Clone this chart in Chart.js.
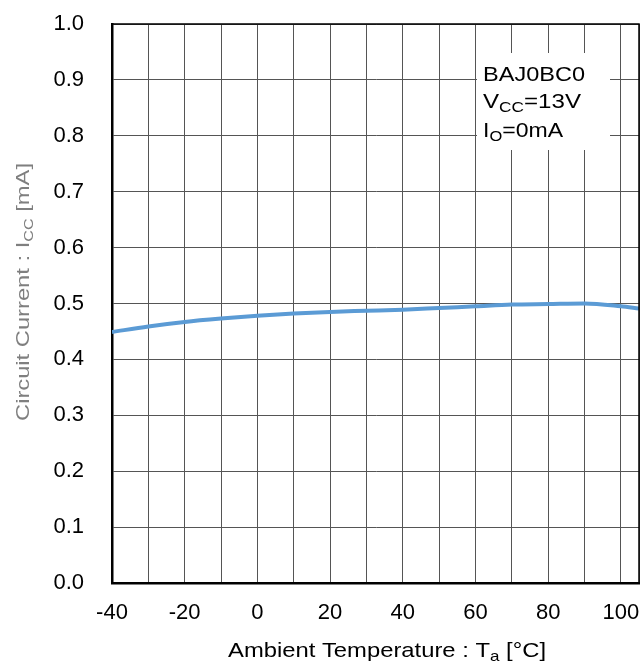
<!DOCTYPE html>
<html>
<head>
<meta charset="utf-8">
<script src="https://cdn.jsdelivr.net/npm/chart.js@4"></script>
<style>
  body { margin: 0; background: #fff; }
  #wrap { width: 642px; height: 665px; position: relative; }
</style>
</head>
<body>
<div id="wrap"><canvas id="chart"></canvas></div>
<script>
// values
const temps = [-40, -30, -20, -10, 0, 10, 20, 30, 40, 50, 60, 70, 80, 90, 100, 105];
const icc   = [0.449, 0.459, 0.467, 0.473, 0.478, 0.482, 0.485, 0.487, 0.489, 0.492, 0.495, 0.498, 0.499, 0.500, 0.495, 0.491];

const xGrid = [-40, -30, -20, -10, 0, 10, 20, 30, 40, 50, 60, 70, 80, 90, 100, 105];
const xLabels = [-40, -20, 0, 20, 40, 60, 80, 100];
const yTicks = [0, 0.1, 0.2, 0.3, 0.4, 0.5, 0.6, 0.7, 0.8, 0.9, 1.0];

const FONT = '"Liberation Sans", Arial, sans-serif';

// draw text with subscripts, stretched along its direction to fit a length
function drawRich(ctx, parts, size, length) {
  const subSize = Math.round(size * 0.7);
  let w = 0;
  parts.forEach(p => {
    ctx.font = (p.sub ? subSize : size) + 'px ' + FONT;
    w += ctx.measureText(p.t).width;
  });
  const sx = length ? length / w : 1;
  ctx.save();
  ctx.scale(sx, 1);
  let x = 0;
  parts.forEach(p => {
    ctx.font = (p.sub ? subSize : size) + 'px ' + FONT;
    ctx.fillText(p.t, x, p.sub ? size * 0.2 : 0);
    x += ctx.measureText(p.t).width;
  });
  ctx.restore();
}

const decor = {
  id: 'decor',
  beforeDatasetsDraw(chart) {
    const ctx = chart.ctx;
    ctx.save();
    ctx.fillStyle = '#fff';
    ctx.fillRect(477, 53, 133, 97);
    ctx.fillStyle = '#000';
    ctx.textBaseline = 'alphabetic';
    ctx.translate(483, 81);
    drawRich(ctx, [{t: 'BAJ0BC0'}], 21, 102);
    ctx.translate(0, 27);
    drawRich(ctx, [{t: 'V'}, {t: 'CC', sub: true}, {t: '=13V'}], 21, 98);
    ctx.translate(0, 29);
    drawRich(ctx, [{t: 'I'}, {t: 'O', sub: true}, {t: '=0mA'}], 21, 80);
    ctx.restore();
  },
  afterDraw(chart) {
    const ctx = chart.ctx;
    const a = chart.chartArea;
    ctx.save();
    ctx.strokeStyle = '#000';
    ctx.lineWidth = 1.5;
    ctx.beginPath();
    ctx.moveTo(a.left, a.top);
    ctx.lineTo(a.right, a.top);
    ctx.lineTo(a.right, a.bottom);
    ctx.stroke();

    ctx.textBaseline = 'alphabetic';
    ctx.fillStyle = '#000';
    ctx.save();
    ctx.translate(228, 657);
    drawRich(ctx, [{t: 'Ambient Temperature : T'}, {t: 'a', sub: true}, {t: ' [°C]'}], 21, 318);
    ctx.restore();

    ctx.fillStyle = '#7f7f7f';
    ctx.translate(29, 421);
    ctx.rotate(-Math.PI / 2);
    drawRich(ctx, [{t: 'Circuit Current : I'}, {t: 'CC', sub: true}, {t: ' [mA]'}], 19, 258);
    ctx.restore();
  }
};

new Chart(document.getElementById('chart'), {
  type: 'line',
  data: {
    datasets: [{
      data: temps.map((t, i) => ({x: t, y: icc[i]})),
      borderColor: '#5b9bd5',
      borderWidth: 4,
      pointRadius: 0,
      cubicInterpolationMode: 'monotone',
      fill: false
    }]
  },
  options: {
    responsive: true,
    maintainAspectRatio: false,
    animation: false,
    layout: { padding: { top: 24, right: 3, left: 0, bottom: 0 } },
    plugins: { legend: { display: false }, tooltip: { enabled: false } },
    scales: {
      x: {
        type: 'linear',
        min: -40,
        max: 105,
        afterBuildTicks: s => { s.ticks = xGrid.map(v => ({value: v})); },
        afterFit: s => { s.height = 82; s.paddingLeft = 0; s.paddingRight = 0; },
        ticks: {
          autoSkip: false,
          maxRotation: 0,
          padding: 17,
          color: '#000',
          font: { family: FONT, size: 22 },
          callback: v => xLabels.includes(v) ? String(v) : ''
        },
        grid: { color: '#555', lineWidth: 1, drawTicks: false },
        border: { color: '#000', width: 2.5 }
      },
      y: {
        min: 0,
        max: 1,
        afterBuildTicks: s => { s.ticks = yTicks.map(v => ({value: v})); },
        afterFit: s => { s.width = 112; s.paddingTop = 0; s.paddingBottom = 0; },
        ticks: {
          padding: 28,
          color: '#000',
          font: { family: FONT, size: 22 },
          callback: v => v.toFixed(1)
        },
        grid: { color: '#555', lineWidth: 1, drawTicks: false },
        border: { color: '#000', width: 2.5 }
      }
    }
  },
  plugins: [decor]
});
</script>
</body>
</html>
